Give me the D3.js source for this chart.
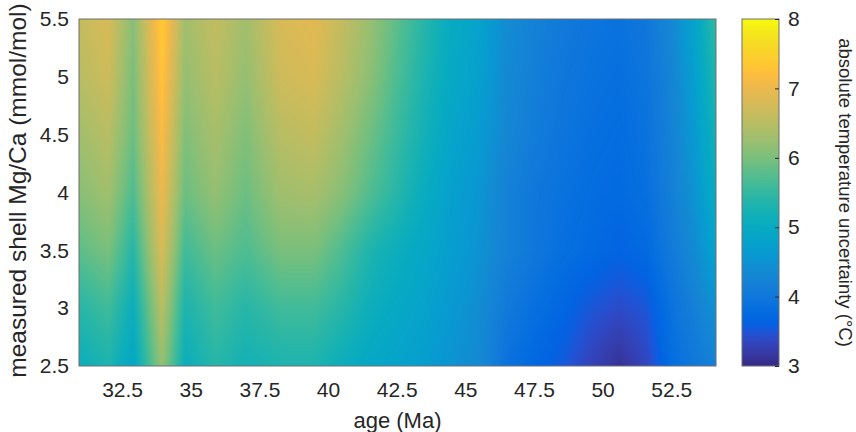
<!DOCTYPE html>
<html lang="en">
<head>
    <meta charset="utf-8">
    <title>Mg/Ca temperature uncertainty</title>
    <style>
        body { margin: 0; background: #fff; }
        text { font-family: "Liberation Sans", Arial, sans-serif; fill: #262626; }
        .axis path { stroke: none; }
        .axis line { stroke: #262626; }
    </style>
</head>
<body>
<script src="https://d3js.org/d3.v7.min.js"></script>
<script>
    // grid: age columns (Ma), Mg/Ca rows (mmol/mol), uncertainty values (degC) per row
    var ages = [30.93, 32, 32.9, 33.95, 34.8, 35.9, 37, 38.3, 39.5, 40.5, 41.6, 42.5,
                43.5, 44.5, 45.5, 46.5, 47.5, 48.5, 49.6, 50.6, 51.6, 52.5, 53.3, 54.13];
    var mgca = [2.5, 3, 3.5, 4, 4.5, 5, 5.5];
    var row25 = [5.1, 5.3, 4.9, 6.2, 5.1, 5.4, 5.2, 5.3, 5.3, 5.1, 4.9, 4.8, 4.7, 4.5, 4.35, 3.9, 3.7, 3.55, 3.3, 3.1, 3.35, 3.8, 4.0, 4.2];
    var row30 = [5.4, 5.6, 5.1, 6.5, 5.3, 5.6, 5.4, 5.6, 5.6, 5.4, 5.1, 4.95, 4.8, 4.6, 4.4, 4.05, 3.85, 3.7, 3.5, 3.4, 3.5, 3.9, 4.15, 4.5];
    var row35 = [5.8, 6.0, 5.4, 6.8, 5.6, 5.9, 5.7, 6.0, 6.0, 5.7, 5.3, 5.1, 4.9, 4.7, 4.5, 4.2, 4.0, 3.85, 3.75, 3.65, 3.75, 4.05, 4.35, 4.8];
    var row40 = [6.1, 6.3, 5.7, 7.0, 5.9, 6.2, 5.9, 6.3, 6.35, 6.1, 5.7, 5.4, 5.05, 4.75, 4.55, 4.2, 4.0, 3.9, 3.8, 3.75, 3.85, 4.15, 4.5, 5.05];
    var row45 = [6.3, 6.5, 5.9, 7.15, 6.05, 6.35, 6.05, 6.5, 6.6, 6.3, 5.9, 5.55, 5.2, 4.85, 4.65, 4.3, 4.1, 3.95, 3.85, 3.8, 3.9, 4.2, 4.6, 5.2];
    var row50 = [6.5, 6.7, 6.0, 7.3, 6.2, 6.5, 6.2, 6.7, 6.8, 6.5, 6.1, 5.7, 5.3, 4.95, 4.75, 4.35, 4.15, 4.0, 3.9, 3.85, 3.95, 4.25, 4.7, 5.35];
    var row55 = [6.6, 6.8, 6.1, 7.4, 6.3, 6.6, 6.3, 6.8, 6.9, 6.6, 6.2, 5.8, 5.4, 5.0, 4.8, 4.4, 4.2, 4.05, 3.95, 3.9, 4.0, 4.3, 4.8, 5.5];
    var rows = [row25, row30, row35, row40, row45, row50, row55];

    var xTicks = [32.5, 35, 37.5, 40, 42.5, 45, 47.5, 50, 52.5];
    var yTicks = [2.5, 3, 3.5, 4, 4.5, 5, 5.5];
    var cTicks = [3, 4, 5, 6, 7, 8];

    // parula colormap
    var parula = [
        [0.2081,0.1663,0.5292],[0.2116,0.1898,0.5777],[0.2123,0.2138,0.6270],[0.2081,0.2386,0.6771],
        [0.1959,0.2645,0.7279],[0.1707,0.2919,0.7792],[0.1253,0.3242,0.8303],[0.0591,0.3598,0.8683],
        [0.0117,0.3875,0.8820],[0.0060,0.4086,0.8828],[0.0165,0.4266,0.8786],[0.0329,0.4430,0.8720],
        [0.0498,0.4586,0.8641],[0.0629,0.4737,0.8554],[0.0723,0.4887,0.8467],[0.0779,0.5040,0.8384],
        [0.0793,0.5200,0.8312],[0.0749,0.5375,0.8263],[0.0641,0.5570,0.8240],[0.0488,0.5772,0.8228],
        [0.0343,0.5966,0.8199],[0.0265,0.6137,0.8135],[0.0239,0.6287,0.8038],[0.0231,0.6418,0.7913],
        [0.0228,0.6535,0.7768],[0.0267,0.6642,0.7607],[0.0384,0.6743,0.7436],[0.0590,0.6838,0.7254],
        [0.0843,0.6928,0.7062],[0.1133,0.7015,0.6859],[0.1453,0.7098,0.6646],[0.1801,0.7177,0.6424],
        [0.2178,0.7250,0.6193],[0.2586,0.7317,0.5954],[0.3022,0.7376,0.5712],[0.3482,0.7424,0.5473],
        [0.3953,0.7459,0.5244],[0.4420,0.7481,0.5033],[0.4871,0.7491,0.4840],[0.5300,0.7491,0.4661],
        [0.5709,0.7485,0.4494],[0.6099,0.7473,0.4337],[0.6473,0.7456,0.4188],[0.6834,0.7435,0.4044],
        [0.7184,0.7411,0.3905],[0.7525,0.7384,0.3768],[0.7858,0.7356,0.3633],[0.8185,0.7327,0.3498],
        [0.8507,0.7299,0.3360],[0.8824,0.7274,0.3217],[0.9139,0.7258,0.3063],[0.9450,0.7261,0.2886],
        [0.9739,0.7314,0.2666],[0.9938,0.7455,0.2403],[0.9990,0.7653,0.2164],[0.9955,0.7861,0.1967],
        [0.9880,0.8066,0.1794],[0.9789,0.8271,0.1633],[0.9697,0.8481,0.1475],[0.9626,0.8705,0.1309],
        [0.9589,0.8949,0.1132],[0.9598,0.9218,0.0948],[0.9661,0.9514,0.0755],[0.9763,0.9831,0.0538]
    ].map(function(c) { return d3.rgb(c[0] * 255, c[1] * 255, c[2] * 255).toString(); });

    var margin = {top: 19, left: 79},
        width = 637,
        height = 347;

    var x = d3.scaleLinear().domain([30.93, 54.13]).range([0, width]);
    var y = d3.scaleLinear().domain([2.5, 5.5]).range([height, 0]);
    var color = d3.scaleLinear()
        .domain(parula.map(function(d, i) { return 3 + 5 * i / (parula.length - 1); }))
        .range(parula)
        .clamp(true);

    var svg = d3.select("body").append("svg")
        .attr("width", 856)
        .attr("height", 432);

    // bilinear interpolation of the grid
    function valueAt(a, m) {
        var i = Math.min(Math.max(d3.bisectRight(ages, a) - 1, 0), ages.length - 2);
        var j = Math.min(Math.max(d3.bisectRight(mgca, m) - 1, 0), mgca.length - 2);
        var tx = (a - ages[i]) / (ages[i + 1] - ages[i]);
        var ty = (m - mgca[j]) / (mgca[j + 1] - mgca[j]);
        tx = Math.max(0, Math.min(1, tx));
        ty = Math.max(0, Math.min(1, ty));
        var v0 = rows[j][i] * (1 - tx) + rows[j][i + 1] * tx;
        var v1 = rows[j + 1][i] * (1 - tx) + rows[j + 1][i + 1] * tx;
        return v0 * (1 - ty) + v1 * ty;
    }

    var canvas = document.createElement("canvas");
    canvas.width = width;
    canvas.height = height;
    var ctx = canvas.getContext("2d");
    var img = ctx.createImageData(width, height);
    for (var py = 0; py < height; py++) {
        var m = y.invert(py + 0.5);
        for (var px = 0; px < width; px++) {
            var c = d3.rgb(color(valueAt(x.invert(px + 0.5), m)));
            var k = (py * width + px) * 4;
            img.data[k] = c.r;
            img.data[k + 1] = c.g;
            img.data[k + 2] = c.b;
            img.data[k + 3] = 255;
        }
    }
    ctx.putImageData(img, 0, 0);

    var g = svg.append("g")
        .attr("transform", "translate(" + margin.left + "," + margin.top + ")");

    g.append("image")
        .attr("width", width)
        .attr("height", height)
        .attr("preserveAspectRatio", "none")
        .attr("href", canvas.toDataURL());

    g.append("g")
        .attr("class", "axis")
        .attr("transform", "translate(0," + height + ")")
        .call(d3.axisBottom(x).tickValues(xTicks).tickSize(0).tickPadding(16).tickFormat(d3.format("")))
        .selectAll("text").style("font-size", "21px");

    g.append("g")
        .attr("class", "axis")
        .call(d3.axisLeft(y).tickValues(yTicks).tickSize(0).tickPadding(10).tickFormat(d3.format("")))
        .selectAll("text").style("font-size", "21px");

    g.append("rect")
        .attr("width", width)
        .attr("height", height)
        .attr("fill", "none")
        .attr("stroke", "#6e6e6e")
        .attr("stroke-width", 1);

    g.append("text")
        .attr("x", width / 2)
        .attr("y", 409)
        .attr("text-anchor", "middle")
        .style("font-size", "22px")
        .text("age (Ma)");

    g.append("text")
        .attr("transform", "translate(" + (26 - margin.left) + "," + (height / 2 - 2) + ") rotate(-90)")
        .attr("text-anchor", "middle")
        .style("font-size", "24.5px")
        .text("measured shell Mg/Ca (mmol/mol)");

    // colorbar
    var cb = svg.append("g").attr("transform", "translate(742," + margin.top + ")");
    var cbWidth = 37;
    var cy = d3.scaleLinear().domain([3, 8]).range([height, 0]);

    var grad = svg.append("defs").append("linearGradient")
        .attr("id", "parula")
        .attr("x1", 0).attr("y1", 1).attr("x2", 0).attr("y2", 0);
    grad.selectAll("stop")
        .data(parula)
        .enter().append("stop")
        .attr("offset", function(d, i) { return i / (parula.length - 1); })
        .attr("stop-color", function(d) { return d; });

    cb.append("rect")
        .attr("width", cbWidth)
        .attr("height", height)
        .attr("fill", "url(#parula)")
        .attr("stroke", "#6e6e6e");

    cb.append("g")
        .attr("class", "axis")
        .attr("transform", "translate(" + cbWidth + ",0)")
        .call(d3.axisRight(cy).tickValues(cTicks).tickSize(-4).tickPadding(9).tickFormat(d3.format("d")))
        .selectAll("text").style("font-size", "21px");

    cb.append("text")
        .attr("transform", "translate(97," + (height / 2) + ") rotate(90)")
        .attr("text-anchor", "middle")
        .style("font-size", "18.5px")
        .text("absolute temperature uncertainty (°C)");
</script>
</body>
</html>
